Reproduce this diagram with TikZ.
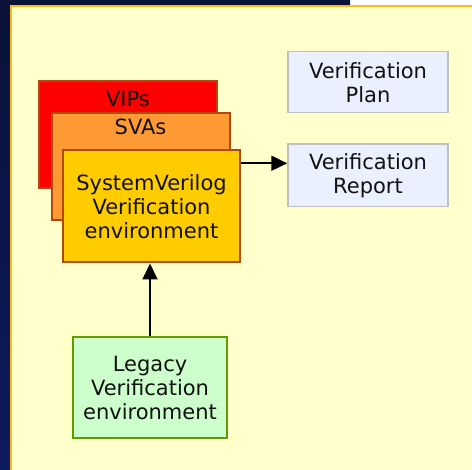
\documentclass[tikz,border=0pt]{standalone}
\usepackage{fontspec}
\setmainfont{DejaVu Sans}
\usetikzlibrary{arrows.meta,calc}
\definecolor{navy}{HTML}{0E1A5E}
\definecolor{navydark}{HTML}{0A1238}
\definecolor{panelfill}{HTML}{FFFFCC}
\definecolor{panelline}{HTML}{FFB819}
\definecolor{boxline}{HTML}{B04A10}
\definecolor{vipfill}{HTML}{FF0000}
\definecolor{svafill}{HTML}{FF9933}
\definecolor{svfill}{HTML}{FFCC00}
\definecolor{docfill}{HTML}{EAF0FE}
\definecolor{docline}{HTML}{C0C0C0}
\definecolor{legfill}{HTML}{CCFFCC}
\definecolor{legline}{HTML}{669900}
\definecolor{txt}{HTML}{111111}
\begin{document}
\begin{tikzpicture}[x=1pt,y=-1pt,
  every node/.style={font=\fontsize{21}{24}\selectfont, text=txt},
  layer/.style={draw=boxline, line width=2pt, inner sep=0pt},
  docbox/.style={draw=docline, fill=docfill, line width=1.5pt, align=center, inner sep=0pt},
  arr/.style={line width=2pt, -{Triangle[length=16pt,width=15pt]}}]
\useasboundingbox (0,0) rectangle (472,470);
% background
\fill[white] (0,0) rectangle (472,470);
\shade[top color=navydark, bottom color=navy] (0,0) rectangle (350,470);
% panel
\fill[panelfill] (11,5.7) rectangle (472,470);
\draw[panelline, line width=2pt] (11,470) -- (11,5.7) -- (472,5.7);
% layered boxes
\node[layer, fill=vipfill, minimum width=178pt, minimum height=107pt, anchor=north west,
  label={[anchor=base, yshift=-26.5pt]north:VIPs}] (vip) at (38,80) {};
\node[layer, fill=svafill, minimum width=178pt, minimum height=107pt, anchor=north west,
  label={[anchor=base, yshift=-23pt]north:SVAs}] (sva) at (50.5,112) {};
\node[layer, fill=svfill, minimum width=177pt, minimum height=112.5pt, anchor=north west, align=center] (sv) at (62,149)
  {SystemVerilog\\Verification\\environment};
% documents
\node[docbox, minimum width=160pt, minimum height=61pt] (plan) at (368,82.2) {Verification\\Plan};
\node[docbox, minimum width=160pt, minimum height=62.5pt] (rep) at (368,175.4) {Verification\\Report};
% legacy
\node[draw=legline, fill=legfill, line width=2pt, align=center, inner sep=0pt,
  minimum width=154pt, minimum height=101pt] (leg) at (150,387.5) {Legacy\\Verification\\environment};
% connectors
\coordinate (a) at ($(sv.north east)+(0,14.3)$);
\draw[arr] (a) -- (rep.west |- a);
\draw[arr] (leg.north) -- (leg.north |- sv.south);
\end{tikzpicture}
\end{document}
